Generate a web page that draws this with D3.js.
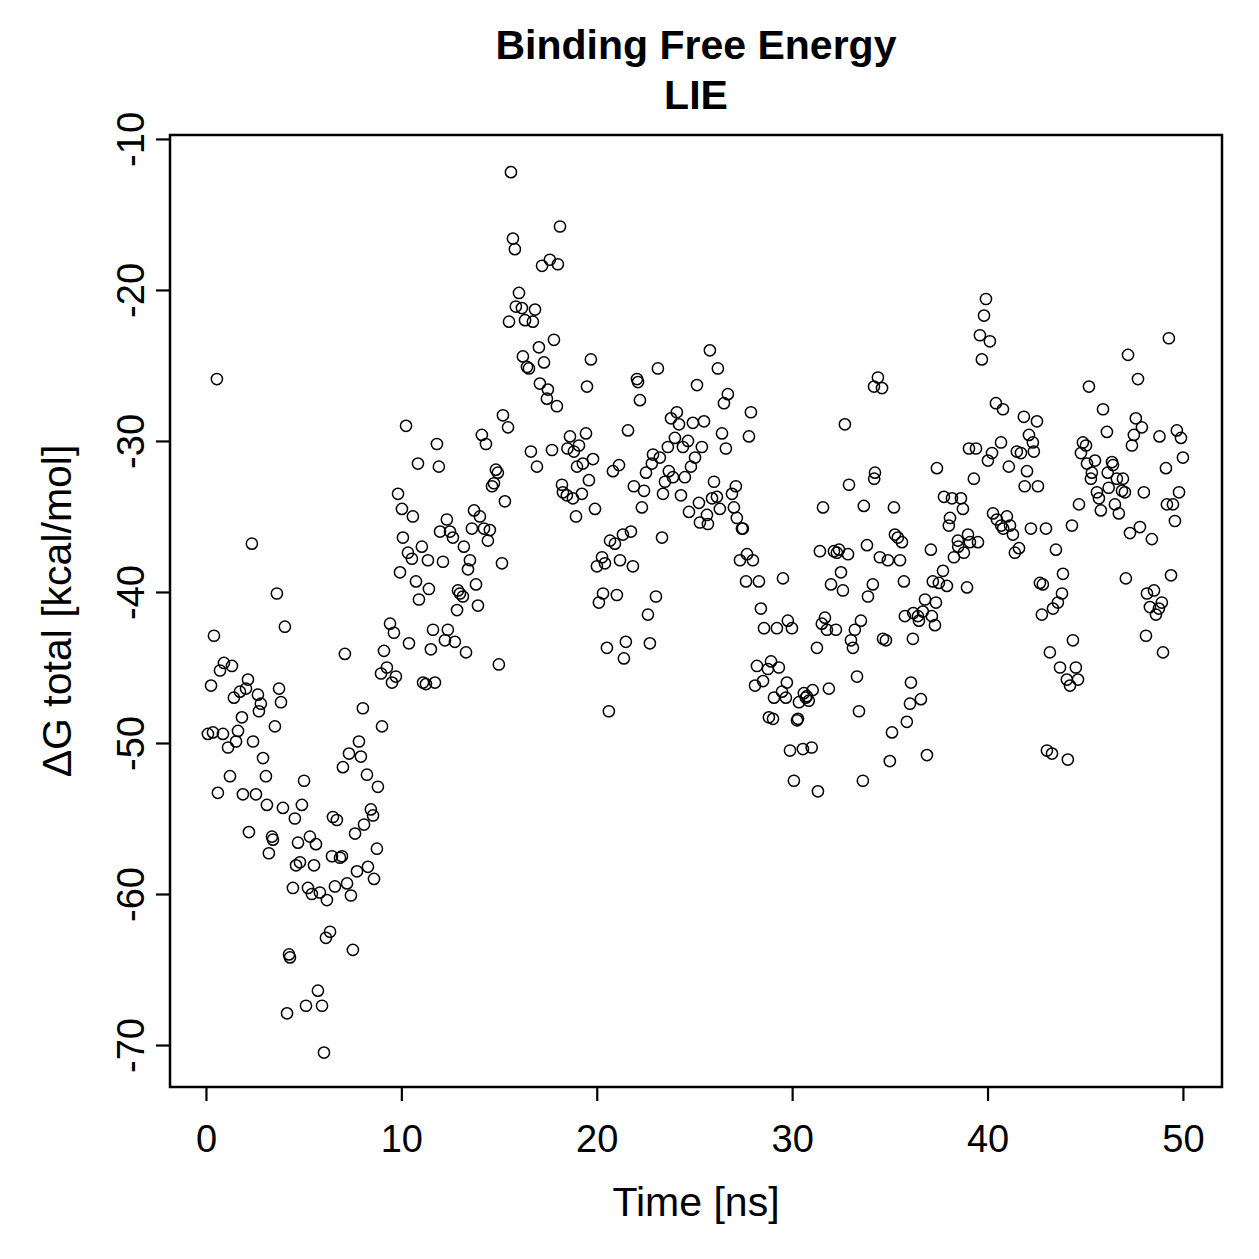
<!DOCTYPE html>
<html>
<head>
<meta charset="utf-8">
<script src="https://cdn.jsdelivr.net/npm/d3@7"></script>
<style>
  body { margin: 0; background: #fff; }
  svg text { font-family: "Liberation Sans", Arial, sans-serif; fill: #000; }
</style>
</head>
<body>
<svg class="main-graphic"></svg>
<script>
// time [ns] of each frame
var time = [
  0.10,0.26,0.36,0.41,0.56,0.61,0.72,0.87,0.92,1.13,
  1.23,1.33,1.43,1.54,1.64,1.74,1.84,1.89,2.05,2.15,
  2.20,2.35,2.41,2.56,2.66,2.71,2.81,2.92,3.07,3.12,
  3.22,3.38,3.43,3.53,3.63,3.74,3.84,3.94,4.04,4.15,
  4.25,4.30,4.45,4.55,4.61,4.71,4.81,4.91,5.02,5.12,
  5.22,5.32,5.42,5.53,5.63,5.73,5.83,5.94,6.04,6.14,
  6.19,6.35,6.45,6.50,6.60,6.70,6.86,6.96,7.01,7.11,
  7.22,7.32,7.42,7.52,7.63,7.73,7.83,7.93,8.03,8.09,
  8.24,8.29,8.44,8.55,8.60,8.75,8.80,8.96,9.01,9.11,
  9.26,9.42,9.52,9.62,9.72,9.83,9.93,10.03,10.08,10.24,
  10.34,10.39,10.54,10.59,10.75,10.85,10.90,11.05,11.11,11.26,
  11.36,11.41,11.51,11.62,11.72,11.82,11.92,11.98,12.13,12.23,
  12.33,12.38,12.49,12.64,12.74,12.85,12.90,13.00,13.15,13.20,
  13.31,13.41,13.51,13.61,13.72,13.82,13.92,14.02,14.12,14.23,
  14.33,14.43,14.53,14.64,14.74,14.84,14.94,14.99,15.15,15.20,
  15.30,15.46,15.51,15.61,15.71,15.81,15.86,16.02,16.17,16.22,
  16.33,16.43,16.53,16.63,16.73,16.84,16.94,17.04,17.09,17.20,
  17.30,17.45,17.50,17.60,17.71,17.81,17.96,18.01,18.12,18.22,
  18.27,18.47,18.50,18.63,18.78,18.83,18.94,18.99,19.09,19.24,
  19.29,19.45,19.50,19.60,19.70,19.81,19.91,20.01,20.11,20.27,
  20.32,20.42,20.52,20.62,20.68,20.83,20.93,21.03,21.14,21.19,
  21.34,21.39,21.49,21.60,21.75,21.85,21.90,22.06,22.11,22.21,
  22.31,22.42,22.52,22.62,22.72,22.82,22.88,23.03,23.13,23.23,
  23.34,23.39,23.49,23.64,23.69,23.80,23.90,24.00,24.10,24.21,
  24.31,24.41,24.51,24.67,24.72,24.82,24.92,25.03,25.13,25.23,
  25.28,25.38,25.49,25.64,25.69,25.79,25.90,26.00,26.15,26.20,
  26.30,26.41,26.51,26.61,26.71,26.92,27.02,27.12,27.17,27.33,
  27.43,27.48,27.64,27.69,27.79,27.89,27.99,28.10,28.20,28.30,
  28.40,28.51,28.56,28.76,28.81,28.92,29.02,29.07,29.22,29.32,
  29.48,29.53,29.68,29.73,29.78,29.89,29.99,30.09,30.25,30.30,
  30.35,30.55,30.60,30.70,30.75,30.85,31.00,31.05,31.27,31.32,
  31.42,31.52,31.58,31.68,31.78,31.88,31.99,32.14,32.24,32.29,
  32.40,32.50,32.60,32.70,32.86,32.91,33.01,33.11,33.21,33.32,
  33.42,33.52,33.62,33.67,33.83,33.88,34.13,34.19,34.20,34.24,
  34.39,34.49,34.60,34.65,34.80,34.90,35.00,35.11,35.21,35.26,
  35.41,35.52,35.62,35.72,35.77,35.87,36.03,36.08,36.18,36.20,
  36.44,36.49,36.59,36.69,36.80,36.90,37.10,37.15,37.20,37.31,
  37.36,37.41,37.51,37.72,37.77,37.92,38.02,38.08,38.18,38.28,
  38.48,38.50,38.64,38.74,38.79,38.95,39.00,39.05,39.10,39.30,
  39.41,39.51,39.61,39.71,39.82,39.92,40.02,40.12,40.23,40.28,
  40.43,40.48,40.69,40.70,40.79,40.80,40.99,41.09,41.15,41.30,
  41.40,41.50,41.61,41.71,41.86,41.90,42.02,42.12,42.22,42.32,
  42.37,42.53,42.58,42.68,42.78,42.83,42.99,43.04,43.19,43.30,
  43.35,43.50,43.60,43.71,43.81,43.86,44.06,44.11,44.22,44.32,
  44.37,44.52,44.63,44.68,44.78,44.88,45.04,45.09,45.19,45.29,
  45.34,45.50,45.60,45.70,45.80,45.91,46.11,46.15,46.20,46.37,
  46.42,46.52,46.62,46.72,46.88,46.93,47.03,47.08,47.19,47.29,
  47.39,47.49,47.59,47.70,47.80,47.90,48.00,48.11,48.16,48.31,
  48.41,48.52,48.62,48.77,48.80,48.92,48.98,49.13,49.18,49.28,
  49.39,49.49,49.59,49.69,49.80,49.90,50.00
];

// dG total [kcal/mol], same order as time
var dG = [
  -49.4,-46.2,-49.3,-42.9,-25.9,-53.3,-45.2,-49.4,-44.7,-50.3,
  -52.2,-44.9,-47.0,-49.9,-49.2,-46.6,-48.3,-53.4,-46.4,-45.8,
  -55.9,-36.8,-49.9,-53.4,-46.8,-47.9,-47.4,-51.0,-52.2,-54.1,
  -57.3,-56.2,-56.4,-48.9,-40.1,-46.4,-47.3,-54.3,-42.3,-67.9,
  -64.0,-64.2,-59.6,-55.0,-58.1,-56.6,-57.9,-54.1,-52.5,-67.4,
  -59.6,-56.2,-60.0,-58.1,-56.7,-66.4,-59.9,-67.4,-70.5,-62.9,
  -60.4,-62.5,-57.5,-54.9,-59.5,-55.1,-57.6,-57.5,-51.6,-44.1,
  -59.3,-50.7,-60.1,-63.7,-56.0,-58.5,-49.9,-50.9,-47.7,-55.4,
  -52.1,-58.2,-54.4,-54.8,-59.0,-57.0,-52.9,-45.4,-48.9,-43.9,
  -45.0,-42.1,-46.0,-42.7,-45.6,-33.5,-38.7,-34.5,-36.4,-29.0,
  -37.4,-43.4,-37.8,-35.0,-39.3,-31.5,-40.5,-37.0,-46.0,-46.1,
  -37.9,-39.8,-43.8,-42.5,-46.0,-30.2,-31.7,-36.0,-38.0,-43.2,
  -35.2,-42.5,-36.0,-36.4,-43.3,-41.2,-39.9,-40.1,-40.3,-37.0,
  -44.0,-38.5,-37.9,-35.8,-34.6,-39.5,-40.9,-35.0,-29.6,-35.8,
  -30.2,-36.6,-35.9,-33.0,-32.8,-31.9,-32.1,-44.8,-38.1,-28.3,
  -34.0,-29.1,-22.1,-12.2,-16.6,-17.3,-21.1,-20.2,-21.2,-24.4,
  -22.0,-25.1,-25.2,-30.7,-22.1,-21.3,-31.7,-23.8,-26.2,-18.4,
  -24.8,-27.2,-26.6,-18.0,-30.6,-23.3,-27.7,-18.3,-15.8,-32.9,
  -33.4,-33.6,-30.5,-29.7,-33.8,-30.7,-35.0,-31.7,-30.3,-33.5,
  -31.5,-29.5,-26.4,-32.6,-24.6,-31.2,-34.5,-38.3,-40.7,-37.7,
  -40.1,-38.1,-43.7,-47.9,-36.6,-32.0,-36.8,-40.2,-31.6,-37.9,
  -36.2,-44.4,-43.3,-29.3,-36.0,-38.3,-33.0,-25.9,-26.1,-27.3,
  -34.4,-33.3,-32.1,-41.5,-43.4,-31.5,-30.9,-40.3,-25.2,-31.1,
  -36.4,-33.5,-32.7,-30.4,-32.0,-28.5,-32.4,-29.8,-28.1,-28.9,
  -33.6,-30.4,-32.4,-30.0,-34.7,-31.7,-28.8,-31.1,-26.3,-34.1,
  -35.4,-30.4,-28.7,-34.9,-35.5,-24.0,-33.8,-32.7,-33.7,-25.2,
  -34.5,-29.5,-27.5,-30.5,-26.9,-33.5,-34.4,-33.0,-35.1,-37.9,
  -35.8,-35.8,-39.3,-37.5,-29.7,-28.1,-37.9,-46.2,-44.9,-39.3,
  -41.1,-45.9,-42.4,-45.1,-48.3,-44.6,-48.4,-47.0,-42.4,-45.0,
  -46.6,-39.1,-47.0,-46.0,-41.9,-50.5,-42.4,-52.5,-48.5,-48.4,
  -47.3,-50.4,-46.7,-47.0,-46.9,-47.2,-50.3,-46.5,-43.7,-53.2,
  -37.3,-42.1,-34.4,-41.7,-42.5,-46.4,-39.5,-37.3,-42.5,-37.4,
  -37.2,-38.7,-39.9,-28.9,-37.5,-32.9,-43.2,-43.7,-42.5,-45.6,
  -47.9,-41.9,-52.5,-34.3,-36.9,-40.3,-39.5,-26.4,-32.5,-32.1,
  -25.8,-37.7,-26.5,-43.1,-43.2,-37.9,-51.2,-49.3,-34.4,-36.2,
  -36.4,-37.9,-36.7,-39.3,-41.6,-48.6,-47.4,-46.0,-43.1,-41.4,
  -41.6,-41.9,-47.1,-41.3,-40.5,-50.8,-37.2,-41.6,-39.3,-42.2,
  -40.7,-31.8,-39.4,-38.6,-33.7,-39.6,-35.6,-35.1,-33.8,-37.7,
  -36.6,-37.0,-33.8,-34.5,-37.4,-39.7,-36.2,-30.5,-36.7,-32.5,
  -30.5,-36.7,-23.0,-24.6,-21.7,-20.6,-31.3,-23.4,-30.8,-34.8,
  -27.5,-35.2,-30.1,-35.6,-27.9,-35.8,-35.0,-31.7,-35.6,-36.2,
  -37.4,-30.7,-37.1,-30.8,-28.4,-33.0,-32.0,-29.6,-35.8,-30.1,
  -30.7,-28.7,-33.0,-39.4,-41.5,-39.5,-35.8,-50.5,-44.0,-50.7,
  -41.1,-37.2,-40.7,-45.0,-40.1,-38.8,-45.8,-51.1,-46.2,-35.6,
  -43.2,-45.0,-45.8,-34.2,-30.8,-30.1,-30.3,-31.5,-26.4,-32.5,
  -32.1,-31.3,-33.4,-33.8,-34.6,-27.9,-29.4,-32.1,-33.1,-31.4,
  -31.6,-34.2,-32.5,-34.8,-33.3,-32.5,-33.4,-39.1,-24.3,-36.1,
  -30.3,-29.6,-28.5,-25.9,-35.7,-29.1,-33.4,-42.9,-40.1,-41.0,
  -36.5,-39.9,-41.5,-41.1,-29.7,-40.7,-44.0,-31.8,-34.2,-23.2,
  -38.9,-34.2,-35.3,-29.3,-33.4,-29.8,-31.1
];

var xTicks = [0, 10, 20, 30, 40, 50];
var yTicks = [-10, -20, -30, -40, -50, -60, -70];
var titleLines = ["Binding Free Energy", "LIE"];
var xLabel = "Time [ns]";
var yLabel = "\u0394G total [kcal/mol]";

var W = 1259, H = 1259;
var box = {left: 170, right: 1222, top: 135, bottom: 1087};

var points = time.map(function(t, i) { return {t: t, g: dG[i]}; });

var x = d3.scaleLinear().domain([-1.84, 52.0]).range([box.left, box.right]);
var y = d3.scaleLinear().domain([-72.78, -9.74]).range([box.bottom, box.top]);

// plain hyphen for negatives, like the original plot
var fmt = function(d) { return String(d); };

var svg = d3.select(".main-graphic")
    .attr("width", W)
    .attr("height", H);

svg.append("rect")
    .attr("width", W).attr("height", H)
    .attr("fill", "#fff");

// points
svg.append("g").selectAll("circle")
    .data(points)
  .enter().append("circle")
    .attr("cx", function(d) { return x(d.t); })
    .attr("cy", function(d) { return y(d.g); })
    .attr("r", 5.6)
    .attr("fill", "none")
    .attr("stroke", "#000")
    .attr("stroke-width", 1.5);

// axes
var xAxis = svg.append("g")
    .attr("transform", "translate(0," + box.bottom + ")")
    .call(d3.axisBottom(x).tickValues(xTicks).tickSize(14).tickPadding(24).tickFormat(fmt));

var yAxis = svg.append("g")
    .attr("transform", "translate(" + box.left + ",0)")
    .call(d3.axisLeft(y).tickValues(yTicks).tickSize(14).tickFormat(fmt));

[xAxis, yAxis].forEach(function(a) {
  a.select(".domain").remove();
  a.selectAll(".tick line").attr("stroke", "#000").attr("stroke-width", 2.2);
  a.selectAll(".tick text").attr("font-size", 38).attr("font-family", "Liberation Sans, Arial, sans-serif");
});

yAxis.selectAll(".tick text")
    .attr("x", null).attr("dy", null)
    .attr("transform", "translate(-26,0) rotate(-90)")
    .attr("text-anchor", "middle");

// box
svg.append("rect")
    .attr("x", box.left).attr("y", box.top)
    .attr("width", box.right - box.left)
    .attr("height", box.bottom - box.top)
    .attr("fill", "none")
    .attr("stroke", "#000")
    .attr("stroke-width", 2.5);

// titles
var cx = (box.left + box.right) / 2;
svg.selectAll(".title")
    .data(titleLines)
  .enter().append("text")
    .attr("class", "title")
    .attr("x", cx)
    .attr("y", function(d, i) { return 59 + i * 50; })
    .attr("text-anchor", "middle")
    .attr("font-size", 41)
    .attr("font-weight", "bold")
    .text(function(d) { return d; });

svg.append("text")
    .attr("x", cx).attr("y", 1216)
    .attr("text-anchor", "middle")
    .attr("font-size", 41)
    .text(xLabel);

svg.append("text")
    .attr("transform", "translate(71," + ((box.top + box.bottom) / 2) + ") rotate(-90)")
    .attr("text-anchor", "middle")
    .attr("font-size", 41)
    .text(yLabel);
</script>
</body>
</html>
